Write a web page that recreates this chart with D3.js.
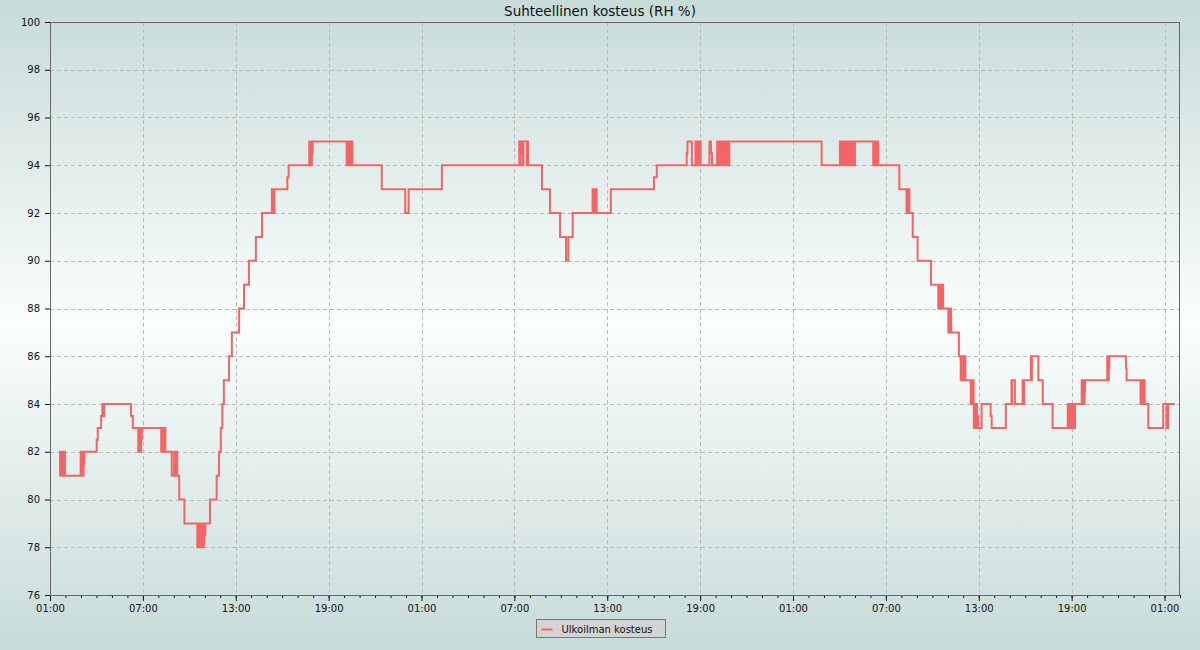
<!DOCTYPE html>
<html><head><meta charset="utf-8">
<script src="https://cdn.jsdelivr.net/npm/d3@7"></script>
<style>
body{margin:0;background:#fff;}
svg{display:block;font-family:"DejaVu Sans",sans-serif;}
</style>
</head><body>
<svg id="chart" width="1200" height="650"></svg>
<script>
const chartTitle = "Suhteellinen kosteus (RH %)";
const seriesName = "Ulkoilman kosteus";
const yTicks = [76, 78, 80, 82, 84, 86, 88, 90, 92, 94, 96, 98, 100];
const startTime = new Date(2024, 0, 1, 1, 0);
const spanHours = 73;
const labelEveryHours = 6;

// [minutes since start (01:00), RH %]
const day1 = [
[36,81],[39,82],[41,81],[42,82],[43,81],[44,82],[45,81],[46,82],[47,81],[48,82],[49,81],[50,82],[51,81],[52,82],[53,81],[54,82],[58,81],
[119,82],[121,81],[124,81.5],[127,81],[128,82],[129,81],[130,82],[131,81.5],[133,82],
[181,82.5],[185,83],[198,83.5],[203,84],[204,83.5],[205,84],[206,83.5],[207,84],[208,83.5],[210,84],
[314,83.5],[321,83],
[342,82],[343,83],[344,82],[345,83],[346,82],[347,83],[348,82],[349,83],[350,82],[351,83],[352,82],[353,83],[354,82.5],[356,83],
[431,82],[432,83],[433,82],[434,83],[435,82],[436,83],[437,82],[438,83],[439,82],[440,83],[441,82],[442,83],[443,82],[444,83],[445,82],[446,83],[447,82],
[472,81],[481,82],[482,81],[483,82],[484,81],[485,82],[486,81],[487,82],[488,81],[489,82],[490,81],[491,82],[493,81],
[501,80],[521,79],
[571,78],[572,79],[573,78],[574,79],[575,78],[576,79],[577,78],[578,79],[579,78],[580,79],[581,78],[582,79],[583,78],[584,79],[585,78.5],[587,79],[588,78],[589,79],[590,78],[591,79],[592,78],[593,79],[594,78],[595,79],[596,78],[597,78.5],[599,79],[600,78.5],[602,79],
[620,80],[646,81],[655,82],[662,83],[668,84],[674,85],[694,86],[705,87],[733,88],[752,89],[771,90],[798,91],[822,92],
[860,93],[861,92],[862,93],[863,92],[864,93],[865,92],[866,93],[867,92],[868,93],[869,92],[870,93],
[920,93.5],[925,94],
[1005,95],[1006,94],[1007,95],[1008,94],[1009,95],[1010,94],[1011,95],[1012,94],[1013,95],[1014,94],[1015,95],[1016,94.5],[1018,95],
[1150,94],[1151,95],[1152,94],[1153,95],[1154,94],[1155,95],[1156,94],[1157,95],[1158,94],[1159,95],[1160,94],[1161,95],[1162,94],[1163,95],[1164,94],[1165,95],[1166,94],[1167,95],[1168,94],[1169,95],[1170,94],[1171,95],[1172,94],
[1286,93],[1377,92],[1390,93]
];
const day2 = [
[1519,94],
[1819,95],[1820,94],[1821,95],[1822,94],[1823,95],[1824,94.5],[1828,95],[1832,94],[1833,95],[1834,94],[1835,95],[1849,94],[1850,95],[1851,94],[1852,95],[1853,94],
[1907,93],[1938,92],[1977,91],[2000,90],[2009,91],[2026,92],
[2103,93],[2104,92],[2105,93],[2106,92],[2107,93],[2108,92],[2109,93],[2110,92],[2111,93],[2112,92],[2113,93],[2114,92],[2115,93],[2119,92],
[2174,93],[2341,93.5],[2352,94],
[2468,94.5],[2471,95],[2488,94],
[2502,95],[2503,94],[2504,95],[2505,94],[2506,95],[2507,94],[2508,95],[2509,94],[2510,95],[2511,94],[2512,95],[2513,94],[2514,95],[2515,94],[2516,95],[2517,94],[2518,95],[2519,94],[2520,95],[2522,94],
[2556,95],[2562,94.5],[2566,94],
[2586,95],[2588,94],[2590,95],[2591,94],[2592,95],[2593,94],[2594,95],[2595,94],[2596,95],[2597,94],[2598,95],[2600,94.5],[2603,95],[2606,94],[2607,95],[2608,94],[2609,95],[2610,94],[2611,95],[2612,94.5],[2616,95],[2617,94],[2618,95],[2619,94],[2620,95],[2621,94],[2622,95],[2623,94],[2624,95],[2625,94],[2626,95],[2627,94],[2628,95],[2629,94],[2630,95],[2631,94],[2633,95]
];
const day3 = [
[2991,94],
[3062,95],[3064,94],[3066,95],[3068,94],[3070,95],[3072,94],[3074,95],[3076,94],[3078,95],[3080,94],[3082,95],[3084,94],[3086,95],[3088,94],[3090,95],[3092,94],[3094,95],[3096,94],[3098,95],[3100,94],[3102,95],[3104,94],[3106,95],[3108,94],[3110,95],[3112,94],[3114,95],[3116,94],[3118,95],[3119,94],[3120,95],
[3191,94],[3193,95],[3195,94],[3197,95],[3199,94],[3201,95],[3203,94],[3205,95],[3207,94],[3209,95],[3210,94],
[3292,93],
[3320,92],[3321,93],[3322,92],[3323,93],[3324,92],[3325,93],[3326,92],[3327,93],[3328,92],[3329,93],[3331,92],
[3344,91],[3363,90],[3415,89],
[3443,88],[3445,89],[3447,88],[3449,89],[3451,88],[3453,89],[3455,88],[3457,89],[3459,88],[3460,89],[3462,88],
[3482,87],[3484,88],[3486,87],[3488,88],[3490,87],[3492,88],[3493,87],
[3523,86],[3530,85],[3531,86],[3532,85],[3540,86],[3541,85],[3542,86],[3543,85.5],[3545,86],[3546,85],[3547,86],[3548,85],
[3569,84],[3570,85],[3571,84],[3572,85],[3573,84],[3574,85],[3575,84],[3576,85],[3577,84],[3578,85],[3580,84],[3581,83],[3582,84],[3583,83],[3584,84],[3585,83],[3586,84],[3587,83],[3588,84],[3589,83],[3590,84],[3591,83],[3592,84],[3593,83],[3594,83.5],[3597,83],
[3611,84],[3646,83.5],[3650,83],[3705,84],
[3727,85],[3728,84],[3729,85],[3740,84],
[3770,85],[3771,84],[3772,85],[3773,84],[3774,85],[3775,84],[3776,85],
[3802,86],[3803,85],[3804,86],[3805,85],[3806,86],
[3831,85],[3848,84],[3886,83],
[3945,84],[3947,83],[3949,84],[3951,83],[3953,84],[3955,83],[3957,84],[3959,83],[3961,84],[3963,83],[3965,84],[3967,83],[3969,84],[3971,83],[3973,84],
[3999,85],[4000,84],[4001,85],[4002,84],[4003,85],[4004,84],[4005,85],[4006,84.5],[4008,84],[4010,85],[4011,84.5],[4012,85],
[4098,86],[4100,85],[4101,86],[4102,85],[4104,85.5],[4106,86],
[4171,85.5],[4173,85],
[4227,84],[4229,85],[4231,84],[4233,85],[4235,84],[4237,85],[4239,84],[4241,85],[4243,84],
[4257,83],[4315,84],[4328,83],[4334,84],[4360,84]
];

const readings = day1.concat(day2, day3).map(([m, v]) => ({t: new Date(startTime.getTime() + m * 60000), v}));

const svg = d3.select("#chart");
const W = 1200, H = 650;
const m = {left: 50, right: 20, top: 22, bottom: 55};

const defs = svg.append("defs");
const grad = defs.append("linearGradient").attr("id", "bg").attr("x1", 0).attr("y1", 0).attr("x2", 0).attr("y2", 1);
grad.append("stop").attr("offset", "0%").attr("stop-color", "#c7dbd9");
grad.append("stop").attr("offset", "50%").attr("stop-color", "#fafefd");
grad.append("stop").attr("offset", "100%").attr("stop-color", "#c7dbd9");
defs.append("clipPath").attr("id", "clip").append("rect")
  .attr("x", m.left).attr("y", m.top).attr("width", W - m.left - m.right).attr("height", H - m.top - m.bottom);

svg.append("rect").attr("width", W).attr("height", H).attr("fill", "url(#bg)");

const endTime = new Date(startTime.getTime() + spanHours * 3600000);
const x = d3.scaleTime().domain([startTime, endTime]).range([m.left, W - m.right]);
const y = d3.scaleLinear().domain([76, 100]).range([H - m.bottom, m.top]);

const majorTimes = d3.range(0, spanHours + 1, labelEveryHours).map(h => new Date(startTime.getTime() + h * 3600000));
const minorTimes = d3.range(0, spanHours + 1, 1).map(h => new Date(startTime.getTime() + h * 3600000));

// grid
const grid = svg.append("g").attr("stroke", "#bbbbbb").attr("stroke-width", 1).attr("stroke-dasharray", "4,3");
grid.selectAll("line.h").data(yTicks.slice(1, -1)).join("line")
  .attr("x1", m.left).attr("x2", W - m.right)
  .attr("y1", d => Math.round(y(d)) + 0.5).attr("y2", d => Math.round(y(d)) + 0.5);
grid.selectAll("line.v").data(majorTimes.slice(1)).join("line")
  .attr("y1", m.top).attr("y2", H - m.bottom)
  .attr("x1", d => Math.round(x(d)) + 0.5).attr("x2", d => Math.round(x(d)) + 0.5);

// axes
const yAxis = svg.append("g").attr("transform", `translate(${m.left},0)`)
  .call(d3.axisLeft(y).tickValues(yTicks).tickSize(5).tickPadding(5).tickFormat(d3.format("d")));
const xMinor = svg.append("g").attr("transform", `translate(0,${H - m.bottom})`)
  .call(d3.axisBottom(x).tickValues(minorTimes).tickSize(3).tickFormat(""));
const xAxis = svg.append("g").attr("transform", `translate(0,${H - m.bottom})`)
  .call(d3.axisBottom(x).tickValues(majorTimes).tickSize(6).tickPadding(4).tickFormat(d3.timeFormat("%H:%M")));
[yAxis, xMinor, xAxis].forEach(g => {
  g.select(".domain").remove();
  g.selectAll("text").attr("font-size", 10).attr("font-family", "DejaVu Sans, sans-serif").attr("fill", "#111");
  g.selectAll("line").attr("stroke", "#111");
});

// line
const line = d3.line().x(d => x(d.t)).y(d => y(d.v)).curve(d3.curveStepAfter);
svg.append("path").datum(readings).attr("clip-path", "url(#clip)")
  .attr("fill", "none").attr("stroke", "#f56464").attr("stroke-width", 2).attr("d", line);

// frame
svg.append("rect").attr("x", m.left + 0.5).attr("y", m.top + 0.5)
  .attr("width", W - m.left - m.right - 1).attr("height", H - m.top - m.bottom)
  .attr("fill", "none").attr("stroke", "#666").attr("stroke-width", 1);

// title
svg.append("text").attr("x", 600).attr("y", 16).attr("text-anchor", "middle")
  .attr("font-size", 13.5).attr("fill", "#111").text(chartTitle);

// legend
const lg = svg.append("g").attr("transform", "translate(536.5,619.5)");
lg.append("rect").attr("width", 129).attr("height", 18).attr("fill", "#d3d3d3").attr("stroke", "#777");
lg.append("line").attr("x1", 5).attr("x2", 16).attr("y1", 10).attr("y2", 10).attr("stroke", "#f56464").attr("stroke-width", 2);
lg.append("text").attr("x", 25).attr("y", 13).attr("font-size", 10).attr("fill", "#111").text(seriesName);
</script>
</body></html>
